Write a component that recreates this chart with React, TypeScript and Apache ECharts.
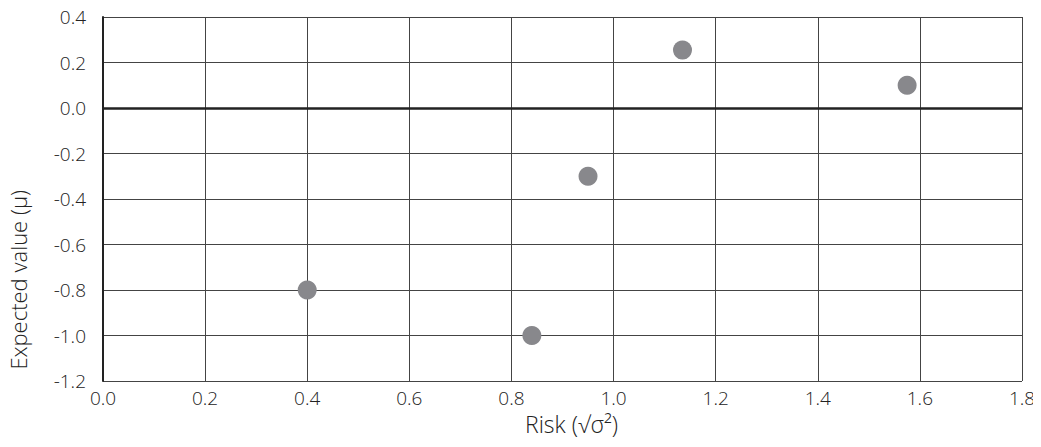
import React, { useEffect, useRef } from "react";
import * as echarts from "echarts";

const riskValues = [0.40, 0.84, 0.95, 1.135, 1.575];
const expectedValues = [-0.80, -1.00, -0.30, 0.255, 0.10];
const xAxisTitle = "Risk (√σ²)";
const yAxisTitle = "Expected value (μ)";

export default function App() {
  const ref = useRef<HTMLDivElement>(null);
  useEffect(() => {
    if (!ref.current) return;
    const chart = echarts.init(ref.current, null, { renderer: "svg" });
    const font = "Open Sans";
    chart.setOption({
      animation: false,
      grid: { left: 103, right: 19, top: 17, bottom: 66 },
      graphic: [
        {
          type: "text",
          left: 525,
          top: 412,
          style: {
            text: xAxisTitle,
            font: `300 23px "${font}"`,
            fill: "#222",
          },
        },
        {
          type: "text",
          left: 7,
          top: 190,
          rotation: Math.PI / 2,
          style: {
            text: yAxisTitle,
            font: `300 22px "${font}"`,
            fill: "#222",
          },
        },
      ],
      xAxis: {
        type: "value",
        min: 0,
        max: 1.8,
        interval: 0.2,
        axisLine: { show: false },
        axisTick: { show: false },
        axisLabel: {
          fontFamily: font,
          fontWeight: 300,
          fontSize: 19,
          color: "#222",
          margin: 7,
          formatter: (v: number) => v.toFixed(1),
        },
        splitLine: { show: true, lineStyle: { color: "#444", width: 1 } },
      },
      yAxis: {
        type: "value",
        min: -1.2,
        max: 0.4,
        interval: 0.2,
        axisLine: { show: true, onZero: false, lineStyle: { color: "#222", width: 2 } },
        axisTick: { show: false },
        axisLabel: {
          fontFamily: font,
          fontWeight: 300,
          fontSize: 19,
          color: "#222",
          margin: 17,
          formatter: (v: number) => v.toFixed(1),
        },
        splitLine: { show: true, lineStyle: { color: "#444", width: 1 } },
      },
      series: [
        {
          type: "scatter",
          data: riskValues.map((x, i) => [x, expectedValues[i]]),
          symbolSize: 19,
          itemStyle: { color: "#88888c", opacity: 1 },
          markLine: {
            silent: true,
            symbol: "none",
            label: { show: false },
            lineStyle: { color: "#222", width: 2.5, type: "solid" },
            data: [{ yAxis: 0 }],
          },
        },
      ],
    });
    return () => chart.dispose();
  }, []);
  return <div ref={ref} style={{ width: 1041, height: 447, margin: -8 }} />;
}
